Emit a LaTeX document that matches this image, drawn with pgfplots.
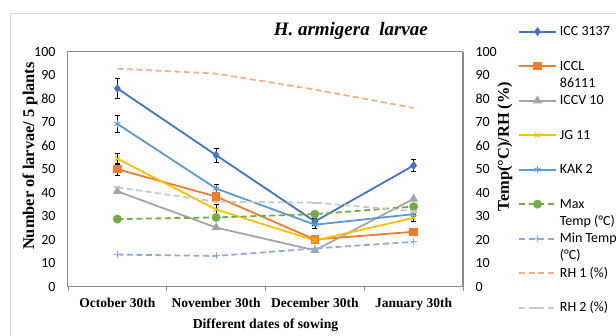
\documentclass[border=0pt]{standalone}
\usepackage{fontspec}
\setmainfont{Liberation Serif}
\newfontfamily\calibri{Carlito}
\usepackage{pgfplots}
\pgfplotsset{compat=1.18}

\definecolor{cA}{HTML}{4472C4}
\definecolor{cB}{HTML}{ED7D31}
\definecolor{cC}{HTML}{A5A5A5}
\definecolor{cD}{HTML}{FFC000}
\definecolor{cE}{HTML}{5B9BD5}
\definecolor{cF}{HTML}{70AD47}
\definecolor{cG}{HTML}{8FAADC}
\definecolor{cH}{HTML}{F4B183}
\definecolor{cI}{HTML}{C9C9C9}
\definecolor{axgray}{HTML}{8C8C8C}
\newcommand\twol[2]{\begin{tabular}[t]{@{}l@{}}#1\\#2\end{tabular}}

\begin{document}
\begin{tikzpicture}
\useasboundingbox (0pt,0pt) rectangle (616pt,336pt);
\draw[gray!30, line width=0.8pt] (10pt,-5pt) rectangle (630pt,323pt);
\begin{axis}[
  at={(68pt,49pt)}, anchor=south west,
  scale only axis, width=395pt, height=235pt,
  xmin=0, xmax=4, ymin=0, ymax=100,
  axis line style={axgray, line width=1pt},
  xtick={0.5,1.5,2.5,3.5},
  xticklabels={October 30th, November 30th, December 30th, January 30th},
  minor xtick={0,1,2,3,4},
  major tick length=0pt, minor tick length=4pt, tick align=outside,
  minor tick style={axgray, line width=0.8pt},
  xtick pos=bottom, ytick pos=left,
  ytick={0,10,...,100},
  /pgf/number format/assume math mode=true,
  yticklabel style={font=\calibri\fontsize{14}{16}\selectfont, xshift=-9pt},
  xticklabel style={font=\bfseries\fontsize{13.5}{15}\selectfont, anchor=base, yshift=-20.5pt},
  xlabel={Different dates of sowing},
  xlabel style={at={(axis description cs:0.5,-0.162)}, anchor=center, font=\bfseries\fontsize{13.7}{15}\selectfont},
  ylabel={Number of larvae/ 5 plants},
  ylabel style={at={(axis description cs:-0.096,0.557)}, anchor=center, font=\bfseries\fontsize{16.4}{18}\selectfont},
  title={\bfseries\itshape H. armigera\ \ larvae},
  title style={at={(axis description cs:0.716,1.066)}, anchor=center, font=\fontsize{19}{21}\selectfont},
  legend image code/.code={\draw[mark repeat=2,mark phase=2,#1] plot coordinates {(0pt,4pt) (18.5pt,4pt) (37pt,4pt)};},
  legend style={draw=none, fill=none, at={(axis description cs:1.139,1.113)}, anchor=north west,
     inner sep=0pt, row sep=0pt, column sep=3pt,
     font=\calibri\fontsize{14}{17}\selectfont,
     cells={anchor=base west},
     nodes={text height=10pt, text depth=24.5pt, inner sep=0pt}},
  error bars/error bar style={black, line width=0.6pt},
  error bars/error mark options={rotate=90, mark size=2.5pt, black, line width=0.6pt},
]
\addplot[cA, line width=1.8pt, mark=diamond*, mark size=3pt,
  error bars/.cd, y dir=both, y explicit]
  coordinates {(0.5,84.5) +- (0,4.2) (1.5,56.1) +- (0,2.9) (2.5,27.9) +- (0,1.5) (3.5,51.7) +- (0,2.6)};
\addplot[cB, line width=1.8pt, mark=square*, mark size=3.3pt,
  error bars/.cd, y dir=both, y explicit]
  coordinates {(0.5,50.1) +- (0,2.4) (1.5,38.5) +- (0,2) (2.5,20.2) +- (0,1) (3.5,23.5) +- (0,1)};
\addplot[cC, line width=1.8pt, mark=triangle*, mark size=3.5pt]
  coordinates {(0.5,40.7) (1.5,25.3) (2.5,15.6) (3.5,37.5)};
\addplot[cD, line width=1.8pt, mark=x, mark size=3.5pt, mark options={line width=1pt},
  error bars/.cd, y dir=both, y explicit]
  coordinates {(0.5,54.6) +- (0,2.5) (1.5,33.0) +- (0,2) (2.5,19.8) +- (0,1) (3.5,29.4) +- (0,1.5)};
\addplot[cE, line width=1.8pt, mark=asterisk, mark size=3.5pt, mark options={line width=0.9pt},
  error bars/.cd, y dir=both, y explicit]
  coordinates {(0.5,69.4) +- (0,3.5) (1.5,41.9) +- (0,2) (2.5,26.5) +- (0,1.5) (3.5,31.0) +- (0,1)};
\addplot[cF, line width=1.8pt, dash pattern=on 6pt off 3.5pt, mark=*, mark size=3.5pt, mark options={solid}]
  coordinates {(0.5,28.9) (1.5,29.6) (2.5,31.0) (3.5,34.2)};
\addplot[cG, line width=1.8pt, dash pattern=on 6pt off 3.5pt, mark=+, mark size=3.5pt, mark options={solid, line width=1pt}]
  coordinates {(0.5,13.8) (1.5,13.2) (2.5,16.4) (3.5,19.2)};
\addplot[cH, line width=1.8pt, dash pattern=on 6pt off 3.5pt, mark=none]
  coordinates {(0.5,92.9) (1.5,90.8) (2.5,84.0) (3.5,76.2)};
\addplot[cI, line width=1.8pt, dash pattern=on 6pt off 3.5pt, mark=-, mark size=3pt, mark options={solid}]
  coordinates {(0.5,42.4) (1.5,36.3) (2.5,35.9) (3.5,32.3)};
\legend{ICC 3137, \twol{ICCL}{86111}, ICCV 10, JG 11, KAK 2, \twol{Max}{Temp (°C)}, \twol{Min Temp}{(°C)}, RH 1 (\%), RH 2 (\%)}
\end{axis}
\begin{axis}[
  at={(68pt,49pt)}, anchor=south west,
  scale only axis, width=395pt, height=235pt,
  xmin=0, xmax=4, ymin=0, ymax=100,
  axis x line=none, axis y line*=right,
  axis line style={axgray, line width=1pt},
  ytick={0,10,...,100}, major tick length=0pt,
  /pgf/number format/assume math mode=true,
  yticklabel style={font=\calibri\fontsize{14}{16}\selectfont, xshift=9pt},
  ylabel={Temp(°C)/RH (\%)},
  ylabel style={at={(axis description cs:1.106,0.598)}, anchor=center, font=\bfseries\fontsize{16.4}{18}\selectfont},
]
\addplot[draw=none] coordinates {(0,0)};
\end{axis}
\end{tikzpicture}
\end{document}
